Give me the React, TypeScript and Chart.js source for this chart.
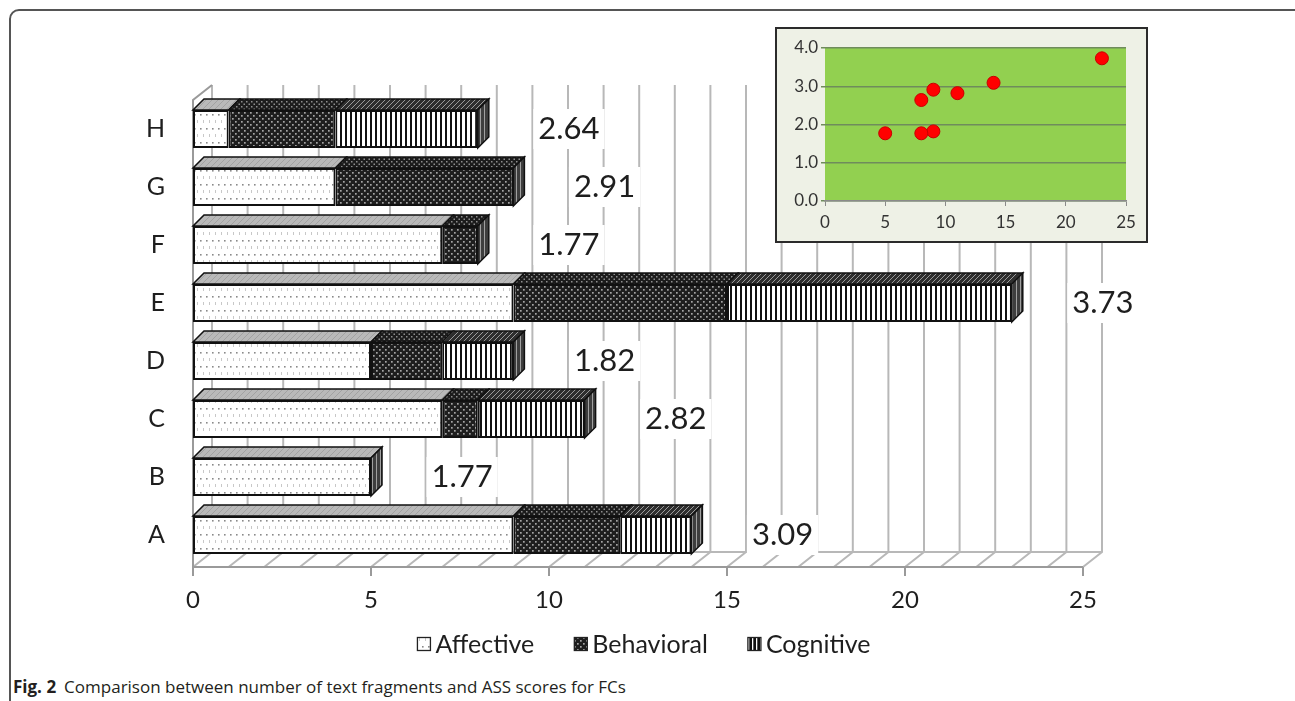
import React, { useEffect, useRef } from 'react';
import { Chart, registerables } from 'chart.js';

Chart.register(...registerables);

// ---- data ----
const categories = ['A', 'B', 'C', 'D', 'E', 'F', 'G', 'H'];
const affective = [9, 5, 7, 5, 9, 7, 4, 1];
const behavioral = [3, 0, 1, 2, 6, 1, 5, 3];
const cognitive = [2, 0, 3, 2, 8, 0, 0, 4];
const assScores = [3.09, 1.77, 2.82, 1.82, 3.73, 1.77, 2.91, 2.64];
const seriesNames = ['Affective', 'Behavioral', 'Cognitive'];
const mainXMax = 25;
const mainXStep = 5;
const insetXMax = 25;
const insetXStep = 5;
const insetYMax = 4;
const insetYStep = 1;
const captionBold = 'Fig. 2';
const captionText = 'Comparison between number of text fragments and ASS scores for FCs';

const FONT = "Lato, 'Open Sans', sans-serif";
const TEXT = '#1e1e1e';

function tile(w: number, h: number, draw: (g: CanvasRenderingContext2D) => void): CanvasPattern {
  const c = document.createElement('canvas');
  c.width = w;
  c.height = h;
  const g = c.getContext('2d')!;
  draw(g);
  return g.createPattern(c, 'repeat')!;
}

function makePatterns() {
  const affFront = tile(12, 14, (g) => {
    g.fillStyle = '#ffffff';
    g.fillRect(0, 0, 12, 14);
    g.fillStyle = '#8a8a8a';
    g.fillRect(2, 2, 1.6, 1.6);
    g.fillRect(8, 2, 1.6, 1.6);
    g.fillStyle = '#c8c8c8';
    g.fillRect(5, 8, 1, 3);
    g.fillRect(11, 8, 1, 3);
  });
  const behFront = tile(6, 6, (g) => {
    g.fillStyle = '#1e1e1e';
    g.fillRect(0, 0, 6, 6);
    g.fillStyle = '#a4a4a4';
    g.fillRect(1, 1, 1.7, 1.7);
    g.fillRect(4, 4, 1.7, 1.7);
  });
  const cogFront = tile(5, 2, (g) => {
    g.fillStyle = '#ffffff';
    g.fillRect(0, 0, 5, 2);
    g.fillStyle = '#111111';
    g.fillRect(0, 0, 2, 2);
  });
  const affTop = tile(6, 6, (g) => {
    g.fillStyle = '#b9b9b9';
    g.fillRect(0, 0, 6, 6);
    g.strokeStyle = '#a2a2a2';
    g.lineWidth = 1;
    g.beginPath();
    g.moveTo(0, 6);
    g.lineTo(6, 0);
    g.stroke();
  });
  const behTop = tile(5, 5, (g) => {
    g.fillStyle = '#1c1c1c';
    g.fillRect(0, 0, 5, 5);
    g.fillStyle = '#8e8e8e';
    g.fillRect(1, 1, 1.5, 1.5);
    g.fillRect(3.5, 3.5, 1.5, 1.5);
  });
  const cogTop = tile(5, 5, (g) => {
    g.fillStyle = '#2e2e2e';
    g.fillRect(0, 0, 5, 5);
    g.strokeStyle = '#9a9a9a';
    g.lineWidth = 1;
    g.beginPath();
    g.moveTo(0, 5);
    g.lineTo(5, 0);
    g.stroke();
  });
  const side = tile(4, 2, (g) => {
    g.fillStyle = '#3e3e3e';
    g.fillRect(0, 0, 4, 2);
    g.fillStyle = '#a0a0a0';
    g.fillRect(0, 0, 1, 2);
  });
  const legendCog = tile(4, 2, (g) => {
    g.fillStyle = '#111111';
    g.fillRect(0, 0, 4, 2);
    g.fillStyle = '#ffffff';
    g.fillRect(0, 0, 1.3, 2);
  });
  return {
    fronts: [affFront, behFront, cogFront],
    tops: [affTop, behTop, cogTop],
    side,
    legend: [affFront, behFront, legendCog],
  };
}

function MainChart() {
  const ref = useRef<HTMLCanvasElement | null>(null);
  useEffect(() => {
    const canvas = ref.current!;
    const pats = makePatterns();
    const seriesValues = [affective, behavioral, cognitive];
    const totals = categories.map((_, i) => affective[i] + behavioral[i] + cognitive[i]);

    const wallDX = 19;
    const wallDY = 15;
    const barDX = 11;
    const barDY = 11;
    const labelGap = 1.7;

    const box3d = {
      id: 'box3d',
      beforeDatasetsDraw(chart: any) {
        const { ctx, chartArea: a, scales } = chart;
        const x = scales.x;
        const floorY = a.bottom + 3;
        ctx.save();
        ctx.lineCap = 'butt';
        ctx.strokeStyle = '#b8b8b8';
        ctx.lineWidth = 2;
        for (let v = 0; v <= mainXMax; v++) {
          const px = x.getPixelForValue(v);
          ctx.beginPath();
          ctx.moveTo(px, floorY);
          ctx.lineTo(px + wallDX, floorY - wallDY);
          ctx.lineTo(px + wallDX, a.top - wallDY);
          ctx.stroke();
        }
        ctx.beginPath();
        ctx.moveTo(x.getPixelForValue(0) + wallDX, floorY - wallDY);
        ctx.lineTo(x.getPixelForValue(mainXMax) + wallDX, floorY - wallDY);
        ctx.stroke();
        ctx.strokeStyle = '#9a9a9a';
        ctx.beginPath();
        ctx.moveTo(x.getPixelForValue(mainXMax), floorY);
        ctx.lineTo(x.getPixelForValue(0), floorY);
        ctx.lineTo(x.getPixelForValue(0), a.top);
        ctx.lineTo(x.getPixelForValue(0) + wallDX, a.top - wallDY);
        ctx.stroke();
        for (let v = 0; v <= mainXMax; v += mainXStep) {
          const px = x.getPixelForValue(v);
          ctx.beginPath();
          ctx.moveTo(px, floorY);
          ctx.lineTo(px, floorY + 9);
          ctx.stroke();
        }
        ctx.restore();
      },
      afterDatasetsDraw(chart: any) {
        const { ctx, scales } = chart;
        const x = scales.x;
        ctx.save();
        ctx.lineJoin = 'miter';
        for (let i = 0; i < categories.length; i++) {
          let last: any = null;
          for (let d = 0; d < seriesValues.length; d++) {
            if (seriesValues[d][i] <= 0) continue;
            const el = chart.getDatasetMeta(d).data[i];
            const p = el.getProps(['x', 'y', 'base', 'height'], true);
            const xl = Math.min(p.x, p.base);
            const xr = Math.max(p.x, p.base);
            const yTop = p.y - p.height / 2;
            ctx.beginPath();
            ctx.moveTo(xl, yTop);
            ctx.lineTo(xr, yTop);
            ctx.lineTo(xr + barDX, yTop - barDY);
            ctx.lineTo(xl + barDX, yTop - barDY);
            ctx.closePath();
            ctx.fillStyle = pats.tops[d];
            ctx.fill();
            ctx.strokeStyle = '#111';
            ctx.lineWidth = 1.5;
            ctx.stroke();
            last = { xr, yTop, yBot: p.y + p.height / 2 };
          }
          if (last) {
            ctx.beginPath();
            ctx.moveTo(last.xr, last.yTop);
            ctx.lineTo(last.xr + barDX, last.yTop - barDY);
            ctx.lineTo(last.xr + barDX, last.yBot - barDY);
            ctx.lineTo(last.xr, last.yBot);
            ctx.closePath();
            ctx.fillStyle = pats.side;
            ctx.fill();
            ctx.strokeStyle = '#111';
            ctx.lineWidth = 1.5;
            ctx.stroke();
          }
          const cy = chart.getDatasetMeta(0).data[i].getProps(['y'], true).y;
          const lx = x.getPixelForValue(totals[i] + labelGap);
          const txt = assScores[i].toFixed(2);
          ctx.font = `31px ${FONT}`;
          const w = ctx.measureText(txt).width;
          ctx.fillStyle = '#ffffff';
          ctx.fillRect(lx - 5, cy - 20, w + 10, 40);
          ctx.fillStyle = TEXT;
          ctx.textAlign = 'left';
          ctx.textBaseline = 'middle';
          ctx.fillText(txt, lx, cy);
        }
        ctx.restore();
      },
      afterDraw(chart: any) {
        const { ctx } = chart;
        const centerX = 644;
        const cy = 644;
        const box = 13;
        const boxGap = 5;
        const itemGap = 40;
        ctx.save();
        ctx.font = `25px ${FONT}`;
        const widths = seriesNames.map((n) => box + boxGap + ctx.measureText(n).width);
        const total = widths.reduce((s, w) => s + w, 0) + itemGap * (seriesNames.length - 1);
        let lx = centerX - total / 2;
        seriesNames.forEach((n, d) => {
          ctx.fillStyle = pats.legend[d];
          ctx.fillRect(lx, cy - box / 2, box, box);
          ctx.strokeStyle = '#222';
          ctx.lineWidth = 1.3;
          ctx.strokeRect(lx, cy - box / 2, box, box);
          ctx.fillStyle = TEXT;
          ctx.textAlign = 'left';
          ctx.textBaseline = 'middle';
          ctx.fillText(n, lx + box + boxGap, cy + 1);
          lx += widths[d] + itemGap;
        });
        ctx.restore();
      },
    };

    const chart = new Chart(canvas, {
      type: 'bar',
      data: {
        labels: categories,
        datasets: seriesNames.map((name, d) => ({
          label: name,
          data: seriesValues[d],
          backgroundColor: pats.fronts[d],
          borderColor: '#111111',
          borderWidth: 2,
          borderSkipped: false,
          barPercentage: 0.655,
          categoryPercentage: 1,
        })),
      },
      options: {
        indexAxis: 'y',
        responsive: false,
        animation: false,
        events: [],
        layout: { padding: { top: 100, right: 212, left: 0, bottom: 46 } },
        scales: {
          x: {
            stacked: true,
            min: 0,
            max: mainXMax,
            grid: { display: false, drawTicks: false, tickLength: 0 },
            border: { display: false },
            ticks: { stepSize: mainXStep, padding: 22, color: TEXT, font: { family: FONT, size: 24 } },
            afterFit(s: any) {
              s.height = 60;
            },
          },
          y: {
            stacked: true,
            reverse: true,
            grid: { display: false, drawTicks: false, tickLength: 0 },
            border: { display: false },
            ticks: { padding: 28, color: TEXT, font: { family: FONT, size: 25 } },
            afterFit(s: any) {
              s.width = 193;
            },
          },
        },
        plugins: {
          legend: { display: false },
          tooltip: { enabled: false },
        },
      },
      plugins: [box3d],
    } as any);
    return () => chart.destroy();
  }, []);
  return (
    <canvas
      ref={ref}
      width={1295}
      height={670}
      style={{ position: 'absolute', left: 0, top: 0, width: 1295, height: 670 }}
    />
  );
}

function InsetChart() {
  const ref = useRef<HTMLCanvasElement | null>(null);
  useEffect(() => {
    const canvas = ref.current!;
    const totals = categories.map((_, i) => affective[i] + behavioral[i] + cognitive[i]);
    const greenArea = {
      id: 'greenArea',
      beforeDraw(chart: any) {
        const { ctx, chartArea: a } = chart;
        ctx.save();
        ctx.fillStyle = '#92d050';
        ctx.fillRect(a.left, a.top, a.right - a.left, a.bottom - a.top);
        ctx.restore();
      },
    };
    const chart = new Chart(canvas, {
      type: 'scatter',
      data: {
        datasets: [
          {
            label: 'ASS',
            data: totals.map((t, i) => ({ x: t, y: assScores[i] })),
            backgroundColor: '#ff0000',
            borderColor: '#c80000',
            borderWidth: 1,
            pointRadius: 6.5,
          },
        ],
      },
      options: {
        responsive: false,
        animation: false,
        events: [],
        layout: { padding: { top: 19, right: 20, left: 0, bottom: 0 } },
        scales: {
          x: {
            type: 'linear',
            min: 0,
            max: insetXMax,
            grid: { display: true, drawOnChartArea: false, drawTicks: true, tickLength: 5, color: '#8a8a8a' },
            border: { display: true, color: '#8a8a8a', width: 1.5 },
            ticks: { stepSize: insetXStep, padding: 6, color: '#333', font: { family: FONT, size: 17 } },
            afterFit(s: any) {
              s.height = 40;
            },
          },
          y: {
            min: 0,
            max: insetYMax,
            grid: { color: '#6f8c5c', lineWidth: 1.5, drawTicks: true, tickLength: 4 },
            border: { display: false },
            ticks: {
              stepSize: insetYStep,
              padding: 3,
              color: '#333',
              font: { family: FONT, size: 17 },
              callback: (v: any) => Number(v).toFixed(1),
            },
            afterFit(s: any) {
              s.width = 48;
            },
          },
        },
        plugins: { legend: { display: false }, tooltip: { enabled: false } },
      },
      plugins: [greenArea],
    } as any);
    return () => chart.destroy();
  }, []);
  return (
    <div
      style={{
        position: 'absolute',
        left: 775,
        top: 27,
        width: 369,
        height: 212,
        border: '2px solid #2b2b2b',
        background: '#eef1e6',
      }}
    >
      <canvas ref={ref} width={369} height={212} style={{ display: 'block', width: 369, height: 212 }} />
    </div>
  );
}

export default function App() {
  return (
    <div
      style={{
        position: 'fixed',
        left: 0,
        top: 0,
        width: 1295,
        height: 701,
        overflow: 'hidden',
        background: '#ffffff',
      }}
    >
      <div
        style={{
          position: 'absolute',
          left: 9,
          top: 9,
          width: 1300,
          height: 760,
          border: '2px solid #555555',
          borderRadius: 10,
          boxSizing: 'border-box',
        }}
      />
      <MainChart />
      <InsetChart />
      <div
        style={{
          position: 'absolute',
          left: 13,
          top: 676,
          fontFamily: "'Open Sans', sans-serif",
          fontSize: 17,
          color: '#231f20',
          whiteSpace: 'nowrap',
          lineHeight: '22px',
        }}
      >
        <b>{captionBold}</b>
        <span style={{ marginLeft: 8 }}>{captionText}</span>
      </div>
    </div>
  );
}
